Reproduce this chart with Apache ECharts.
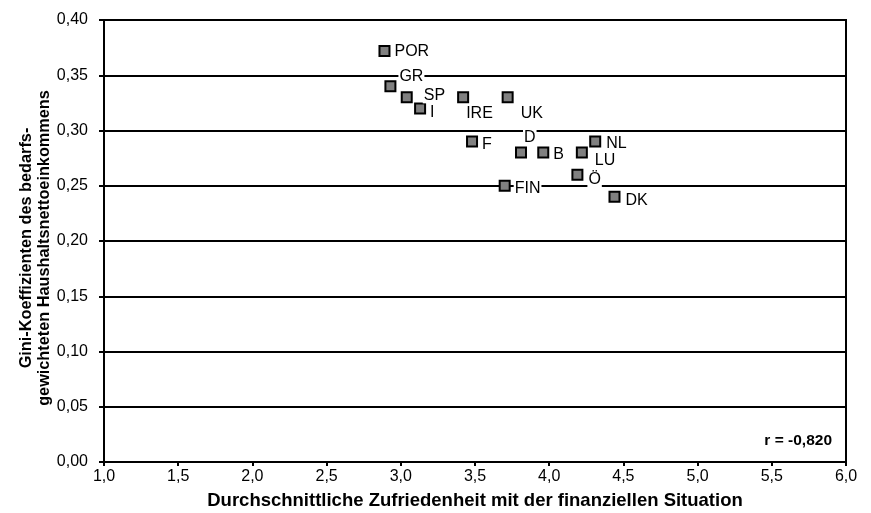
<!DOCTYPE html>
<html>
<head>
<meta charset="utf-8">
<script src="https://cdn.jsdelivr.net/npm/echarts@6/dist/echarts.min.js"></script>
<style>
  html, body { margin: 0; padding: 0; background: #fff; }
  #chart { width: 871px; height: 513px; }
</style>
</head>
<body>
<div id="chart"></div>
<script>
// Länder und Werte
const countries = ['POR', 'GR', 'SP', 'I', 'IRE', 'UK', 'F', 'D', 'B', 'LU', 'NL', 'Ö', 'FIN', 'DK'];
const satisfaction = [2.89, 2.93, 3.04, 3.13, 3.42, 3.72, 3.48, 3.81, 3.96, 4.22, 4.31, 4.19, 3.70, 4.44];
const gini = [0.372, 0.34, 0.33, 0.32, 0.33, 0.33, 0.29, 0.28, 0.28, 0.28, 0.29, 0.26, 0.25, 0.24];
const xTicks = [1.0, 1.5, 2.0, 2.5, 3.0, 3.5, 4.0, 4.5, 5.0, 5.5, 6.0];
const yTicks = [0.00, 0.05, 0.10, 0.15, 0.20, 0.25, 0.30, 0.35, 0.40];

// Verschiebung der Beschriftungen
const labelOffsets = [[-2, 1], [-3, -10], [5, -2], [-2, 4], [-9, 16], [1, 16], [-2, 3], [-9, -15], [-2, 2], [1, 8], [-1, 2], [-1, 5], [-2, 3], [-1, 4]];

const fmt = (v, d) => v.toFixed(d).replace('.', ',');
const font = 'Liberation Sans, Arial, sans-serif';

const points = countries.map((c, i) => ({
  name: c,
  value: [satisfaction[i], gini[i]],
  label: { offset: labelOffsets[i] }
}));

const option = {
  animation: false,
  textStyle: { fontFamily: font },
  grid: {
    left: 104, right: 25, top: 20, bottom: 51,
    outerBoundsMode: 'none', containLabel: false,
    show: true, borderColor: '#000', borderWidth: 2, backgroundColor: '#fff'
  },
  xAxis: {
    type: 'value', min: xTicks[0], max: xTicks[xTicks.length - 1], interval: 0.5,
    name: 'Durchschnittliche Zufriedenheit mit der finanziellen Situation',
    nameLocation: 'middle', nameGap: 29,
    nameTextStyle: { fontSize: 18.5, fontWeight: 'bold', color: '#000' },
    axisLine: { lineStyle: { color: '#000', width: 2 } },
    axisTick: { show: true, length: 4, lineStyle: { color: '#000', width: 2 } },
    axisLabel: { fontSize: 16, color: '#000', margin: 7, formatter: v => fmt(v, 1) },
    splitLine: { show: false }
  },
  yAxis: {
    type: 'value', min: yTicks[0], max: yTicks[yTicks.length - 1], interval: 0.05,
    axisLine: { lineStyle: { color: '#000', width: 2 } },
    axisTick: { show: true, length: 5, lineStyle: { color: '#000', width: 2 } },
    axisLabel: { fontSize: 16, color: '#000', margin: 16, formatter: v => fmt(v, 2) },
    splitLine: { show: true, lineStyle: { color: '#000', width: 2 } }
  },
  series: [{
    type: 'scatter',
    symbol: 'rect',
    symbolSize: 10,
    itemStyle: { color: '#808080', borderColor: '#000', borderWidth: 2, opacity: 1 },
    label: {
      show: true, position: 'right', distance: 5,
      formatter: p => p.name,
      fontSize: 16, color: '#000',
      backgroundColor: '#fff', padding: [0, 1]
    },
    data: points,
    z: 5
  }],
  graphic: [
    {
      type: 'text', x: 36, y: 248, rotation: Math.PI / 2,
      style: {
        text: 'Gini-Koeffizienten des bedarfs-\ngewichteten Haushaltsnettoeinkommens',
        fontSize: 16.3, fontWeight: 'bold', fill: '#000', fontFamily: font,
        lineHeight: 18, align: 'center', verticalAlign: 'middle'
      }
    },
    {
      type: 'text', right: 39, bottom: 64,
      style: { text: 'r = -0,820', fontSize: 15.5, fontWeight: 'bold', fill: '#000', fontFamily: font }
    }
  ]
};

const myChart = echarts.init(document.getElementById('chart'));
myChart.setOption(option);
</script>
</body>
</html>
